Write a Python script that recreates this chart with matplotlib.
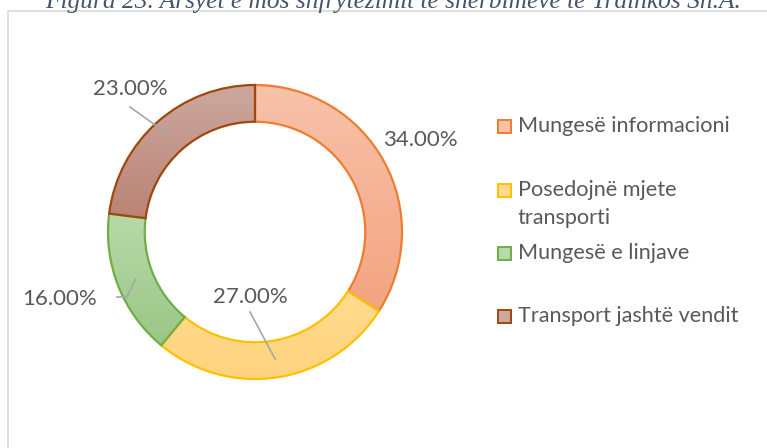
import numpy as np
import matplotlib.pyplot as plt
from matplotlib.patches import Rectangle
from matplotlib.colors import LinearSegmentedColormap

# data
categories = ["Mungesë informacioni", "Posedojnë mjete\ntransporti",
              "Mungesë e linjave", "Transport jashtë vendit"]
shares = [34.0, 27.0, 16.0, 23.0]
edge_colors = ["#ED7D31", "#FFC000", "#70AD47", "#9E480E"]
top_colors = ["#F8C2AA", "#FFDA8E", "#B8D9A9", "#CDA89F"]
bottom_colors = ["#F4A480", "#FFD47F", "#9AC785", "#BA8375"]
title = "Figura 23. Arsyet e mos shfrytëzimit të shërbimeve të Trainkos Sh.A."

W, H = 767, 448
fig = plt.figure(figsize=(W / 100, H / 100), dpi=100)
ax = fig.add_axes([0, 0, 1, 1])

cx, cy, R = 255, H - 232, 147
ring = 0.25

# fill (flat first, gradient clipped on top)
wedges, _ = ax.pie(shares, startangle=90, counterclock=False, center=(cx, cy),
                   radius=R, colors=bottom_colors,
                   wedgeprops=dict(width=R * ring, linewidth=0))
for w, c0, c1 in zip(wedges, top_colors, bottom_colors):
    bb = w.get_path().get_extents()
    cmap = LinearSegmentedColormap.from_list("g", [c1, c0])
    grad = np.linspace(0, 1, 256).reshape(-1, 1)
    im = ax.imshow(grad, cmap=cmap, extent=(bb.x0, bb.x1, bb.y0, bb.y1),
                   origin="lower", aspect="auto", zorder=1)
    im.set_clip_path(w)

# outlines
edges, _ = ax.pie(shares, startangle=90, counterclock=False, center=(cx, cy),
                  radius=R, wedgeprops=dict(width=R * ring, fill=False, linewidth=1.6))
for w, ec in zip(edges, edge_colors):
    w.set_edgecolor(ec)
    w.set_zorder(2)

ax.set_xlim(0, W)
ax.set_ylim(0, H)
ax.axis("off")

# data labels with leader lines to the middle of each segment
cum = np.cumsum([0] + shares[:-1])
mid_ang = np.deg2rad(90 - 360 * (cum + np.array(shares) / 2) / 100)
rm = R * (1 - ring / 2)
mx = cx + rm * np.cos(mid_ang)
my = cy + rm * np.sin(mid_ang)

lab_color = "#595959"
lead = "#A6A6A6"
fs = 16
lab_xy = [(420, H - 140), (250, H - 297), (60, H - 299), (130, H - 89)]
for i, (lx, ly) in enumerate(lab_xy):
    ax.text(lx, ly, f"{shares[i]:.2f}%", ha="center", va="center",
            fontsize=fs, color=lab_color, family="Lato")
# leaders
ax.plot([250, mx[1]], [H - 312, my[1]], color=lead, lw=1.2, zorder=3)
ax.plot([117, 127, mx[2]], [H - 297, H - 297, my[2]], color=lead, lw=1.2, zorder=3)
ax.plot([130, mx[3]], [H - 107, my[3]], color=lead, lw=1.2, zorder=3)

# legend
leg_y = [126, 190, 253, 316]
for i, name in enumerate(categories):
    y = H - leg_y[i]
    ax.add_patch(Rectangle((498, y - 6.5), 13, 13, facecolor=top_colors[i],
                           edgecolor=edge_colors[i], lw=1.4, zorder=3))
    for j, line in enumerate(name.split("\n")):
        ax.text(518, y - 28 * j, line, ha="left", va="center", fontsize=15.6,
                color=lab_color, family="Lato")

# chart area border and cut-off caption
ax.add_patch(Rectangle((8, -30), 820, H - 11 + 30, fill=False,
                       edgecolor="#D9D9D9", lw=1.2, zorder=0))
ax.text(393, H - 8, title, ha="center", va="baseline", fontsize=18.3,
        style="italic", family="Liberation Serif", color="#44546A")

fig.savefig("out.png", dpi=100)
